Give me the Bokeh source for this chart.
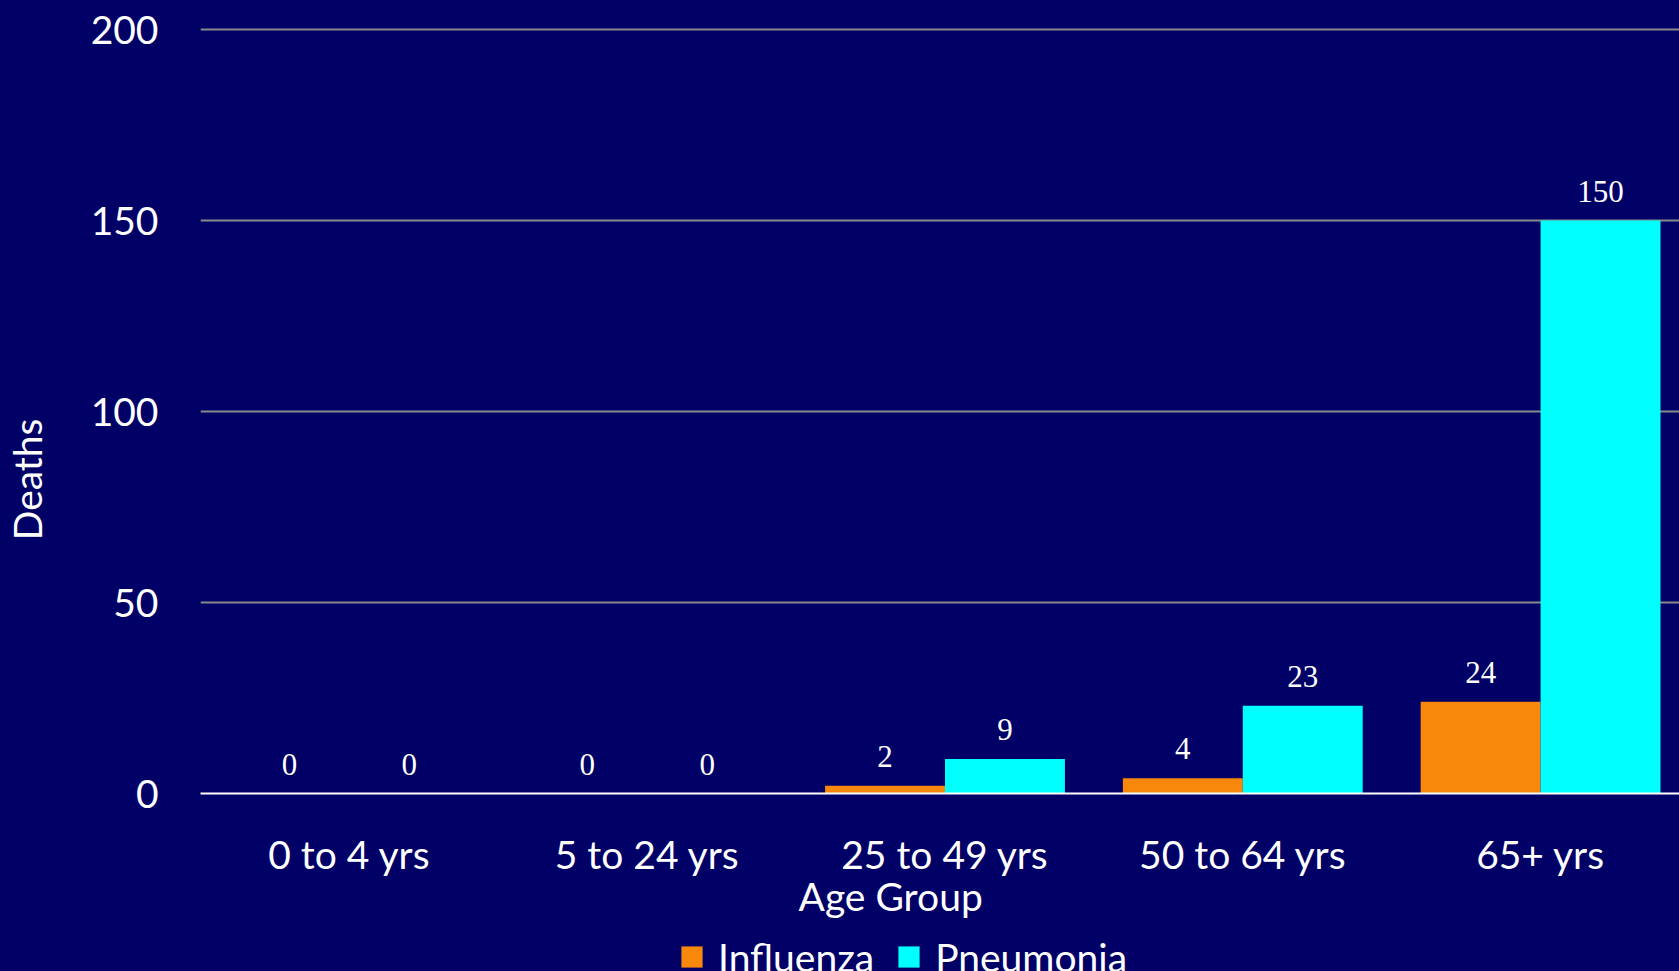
from bokeh.plotting import figure
from bokeh.models import (Range1d, FixedTicker, ColumnDataSource, LabelSet, Title,
                          Legend, LegendItem)
from bokeh.layouts import column
from bokeh.embed import file_html
from bokeh.resources import INLINE

# ---- data ----
categories = ["0 to 4 yrs", "5 to 24 yrs", "25 to 49 yrs", "50 to 64 yrs", "65+ yrs"]
influenza = [0, 0, 2, 4, 24]
pneumonia = [0, 0, 9, 23, 150]
y_ticks = [0, 50, 100, 150, 200]
series_names = ["Influenza", "Pneumonia"]
x_title = "Age Group"
y_title = "Deaths"

# ---- styles / layout ----
BG = "#000066"
ORANGE = "#F7880B"
CYAN = "#00FFFF"
GRID = "#8A8A8A"
FONT = "Lato"
FS = "39px"
W, H = 1679, 971
H1 = 928                      # main chart height; legend strip below
LEFT, TOP, RIGHT = 199, 25, 0
FRAME_H = 768
PX_PER_UNIT = 3.82
BOTTOM = H1 - TOP - FRAME_H
FRAME_W = W - LEFT - RIGHT
CAT_PX = 298.0
BAR_W = 120.0 / CAT_PX

centers = [i + 0.5 for i in range(len(categories))]
x_infl = [c - BAR_W / 2 for c in centers]
x_pneu = [c + BAR_W / 2 for c in centers]

src_i = ColumnDataSource(dict(x=x_infl, top=influenza, lbl=[str(v) for v in influenza]))
src_p = ColumnDataSource(dict(x=x_pneu, top=pneumonia, lbl=[str(v) for v in pneumonia]))

p = figure(width=W, height=H1, x_range=Range1d(0, FRAME_W / CAT_PX),
           y_range=Range1d(0, FRAME_H / PX_PER_UNIT),
           output_backend="svg", toolbar_location=None,
           min_border_left=LEFT, min_border_top=TOP, min_border_right=RIGHT,
           min_border_bottom=BOTTOM)
p.background_fill_color = BG
p.border_fill_color = BG
p.outline_line_color = None
p.styles = {"background-color": BG}

r1 = p.vbar(x="x", top="top", width=BAR_W, source=src_i, fill_color=ORANGE, line_color=None)
r2 = p.vbar(x="x", top="top", width=BAR_W, source=src_p, fill_color=CYAN, line_color=None)

# axes
p.xaxis.ticker = FixedTicker(ticks=centers)
p.xaxis.major_label_overrides = {c: n for c, n in zip(centers, categories)}
p.xaxis.axis_line_color = "white"
p.xaxis.axis_line_width = 2
p.xaxis.major_tick_line_color = None
p.xaxis.minor_tick_line_color = None
p.xaxis.major_tick_out = 0
p.xaxis.major_tick_in = 0
p.xaxis.major_label_text_font = FONT
p.xaxis.major_label_text_font_size = FS
p.xaxis.major_label_text_color = "white"
p.xaxis.major_label_standoff = 37

p.yaxis.ticker = FixedTicker(ticks=y_ticks)
p.yaxis.axis_line_color = None
p.yaxis.major_tick_line_color = None
p.yaxis.minor_tick_line_color = None
p.yaxis.major_tick_out = 0
p.yaxis.major_tick_in = 0
p.yaxis.major_label_text_font = FONT
p.yaxis.major_label_text_font_size = FS
p.yaxis.major_label_text_color = "white"
p.yaxis.major_label_standoff = 42
# trailing no-break spaces shift the centred title down to where the original sits
p.yaxis.axis_label = y_title + "\u00a0" * 14
p.yaxis.axis_label_text_font = FONT
p.yaxis.axis_label_text_font_size = FS
p.yaxis.axis_label_text_font_style = "normal"
p.yaxis.axis_label_text_color = "white"
p.yaxis.axis_label_standoff = 38

p.xgrid.grid_line_color = None
p.ygrid.ticker = FixedTicker(ticks=y_ticks)
p.ygrid.grid_line_color = GRID
p.ygrid.grid_line_width = 2

# data labels
for src in (src_i, src_p):
    p.add_layout(LabelSet(x="x", y="top", text="lbl", source=src, y_offset=19,
                          text_align="center", text_baseline="alphabetic",
                          text_font="Liberation Serif", text_font_size="31px",
                          text_color="white"))

# x axis title
p.add_layout(Title(text=x_title, align="left", offset=598, standoff=-18,
                   text_font=FONT, text_font_size=FS, text_font_style="normal",
                   text_color="white"), "below")

# legend strip
H2 = H - H1
p2 = figure(width=W, height=H2, x_range=Range1d(0, W), y_range=Range1d(0, H2),
            output_backend="svg", toolbar_location=None, x_axis_type=None, y_axis_type=None,
            min_border=0, min_border_left=0, min_border_right=0, min_border_top=0,
            min_border_bottom=0)
p2.background_fill_color = BG
p2.border_fill_color = BG
p2.outline_line_color = None
p2.grid.grid_line_color = None
p2.styles = {"background-color": BG}
# invisible legend proxies (placed outside the visible range)
g1 = p2.scatter(x=[-100], y=[-100], marker="square", size=21, fill_color=ORANGE, line_color=None)
g2 = p2.scatter(x=[-100], y=[-100], marker="square", size=21, fill_color=CYAN, line_color=None)
legend = Legend(items=[LegendItem(label=series_names[0], renderers=[g1]),
                       LegendItem(label=series_names[1], renderers=[g2])],
                location=(465, -12), orientation="horizontal",
                glyph_width=53, glyph_height=53, label_standoff=-16, spacing=8,
                padding=0, margin=0, background_fill_alpha=0, border_line_color=None,
                label_text_font=FONT, label_text_font_size=FS, label_text_color="white")
p2.add_layout(legend)

layout = column(p, p2, spacing=0)
layout.styles = {"background-color": BG}
open("out.html", "w").write(file_html(layout, INLINE))
